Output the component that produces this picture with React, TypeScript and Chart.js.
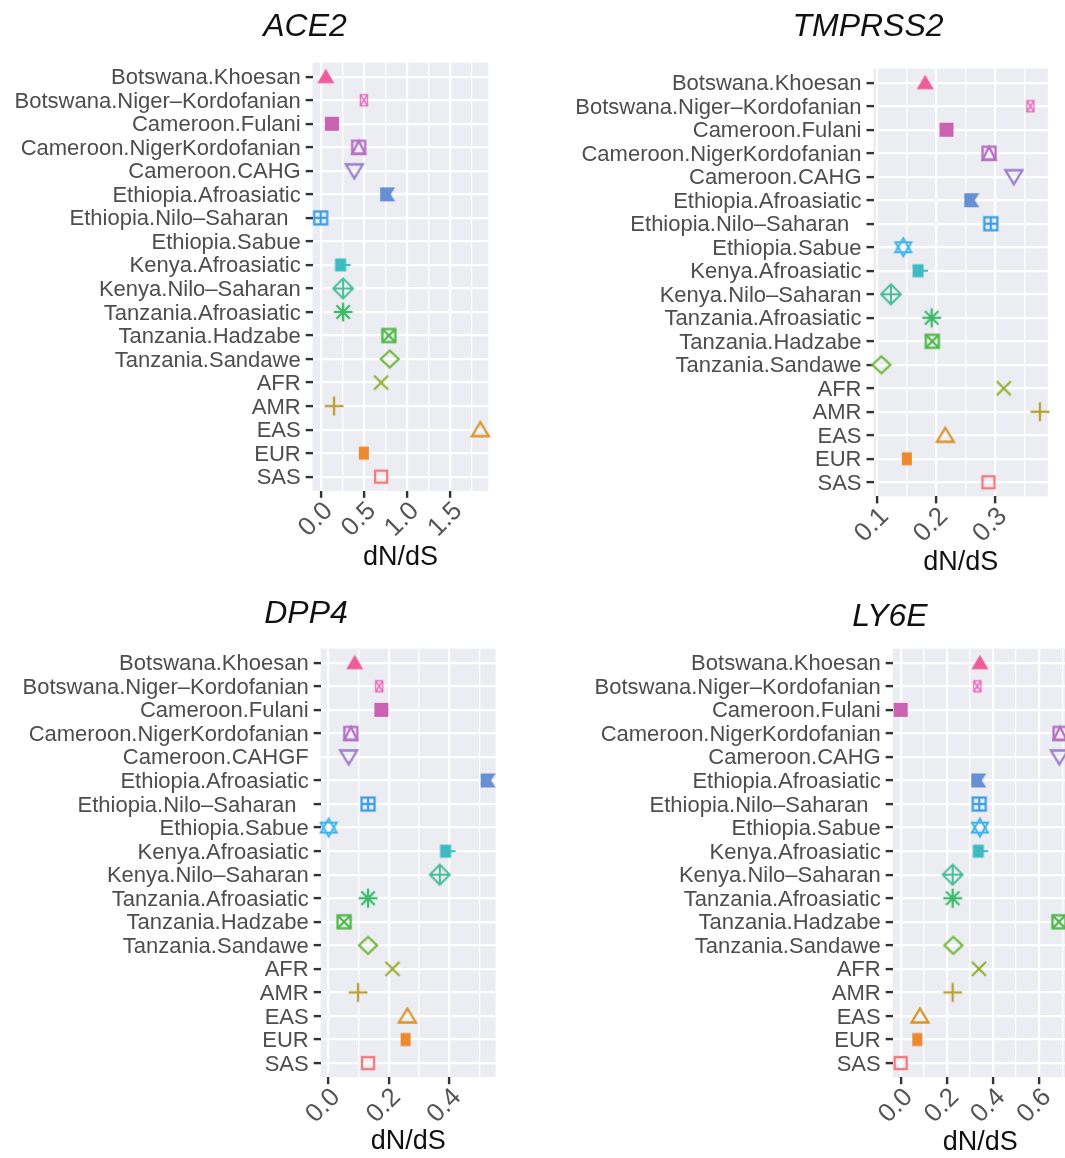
import React, { useEffect, useRef } from 'react';
import { Chart, registerables } from 'chart.js';

Chart.register(...registerables);

// ---------- data ----------
const POPULATIONS = [
  'Botswana.Khoesan',
  'Botswana.Niger–Kordofanian',
  'Cameroon.Fulani',
  'Cameroon.NigerKordofanian',
  'Cameroon.CAHG',
  'Ethiopia.Afroasiatic',
  'Ethiopia.Nilo–Saharan  ',
  'Ethiopia.Sabue',
  'Kenya.Afroasiatic',
  'Kenya.Nilo–Saharan',
  'Tanzania.Afroasiatic',
  'Tanzania.Hadzabe',
  'Tanzania.Sandawe',
  'AFR',
  'AMR',
  'EAS',
  'EUR',
  'SAS',
];

// DPP4 panel shows a glitched label
const POPULATIONS_DPP4 = POPULATIONS.map((p) => (p === 'Cameroon.CAHG' ? 'Cameroon.CAHGF' : p));

const ACE2 = [0.06, 0.5, 0.13, 0.44, 0.39, 0.77, 0.0, null, 0.23, 0.26, 0.26, 0.79, 0.8, 0.7, 0.155, 1.85, 0.5, 0.7];
const TMPRSS2 = [0.182, 0.36, 0.218, 0.29, 0.332, 0.26, 0.293, 0.145, 0.17, 0.124, 0.193, 0.194, 0.108, 0.315, 0.376, 0.216, 0.151, 0.289];
const DPP4 = [0.088, 0.169, 0.176, 0.075, 0.068, 0.527, 0.132, 0.002, 0.388, 0.369, 0.132, 0.053, 0.132, 0.213, 0.099, 0.262, 0.256, 0.132];
const LY6E = [0.343, 0.332, 0.0, 0.69, 0.687, 0.336, 0.34, 0.343, 0.336, 0.225, 0.225, 0.685, 0.228, 0.339, 0.225, 0.0835, 0.072, 0.0];

const ACE2_TICKS = [0, 0.5, 1.0, 1.5];
const ACE2_MINOR = [0.25, 0.75, 1.25, 1.75];
const TMPRSS2_TICKS = [0.1, 0.2, 0.3];
const TMPRSS2_MINOR = [0.15, 0.25, 0.35];
const DPP4_TICKS = [0, 0.2, 0.4];
const DPP4_MINOR = [0.1, 0.3, 0.5];
const LY6E_TICKS = [0, 0.2, 0.4, 0.6];
const LY6E_MINOR = [0.1, 0.3, 0.5, 0.7];

const COLORS = [
  '#EE5D9A', // Botswana.Khoesan
  '#E46BB8', // Botswana.Niger–Kordofanian
  '#C962B0', // Cameroon.Fulani
  '#B46EC2', // Cameroon.NigerKordofanian
  '#9A7FCC', // Cameroon.CAHG
  '#6690D3', // Ethiopia.Afroasiatic
  '#3C9FE4', // Ethiopia.Nilo–Saharan
  '#3CB6EA', // Ethiopia.Sabue
  '#3DBBC0', // Kenya.Afroasiatic
  '#48BF96', // Kenya.Nilo–Saharan
  '#3DBB6A', // Tanzania.Afroasiatic
  '#4DB848', // Tanzania.Hadzabe
  '#72BA3E', // Tanzania.Sandawe
  '#9AAE35', // AFR
  '#B9A233', // AMR
  '#D8962A', // EAS
  '#EC8A30', // EUR
  '#F2787A', // SAS
];

const FONT = '"Liberation Sans", Arial, Helvetica, sans-serif';

// ---------- marker glyphs ----------
type Draw = (c: CanvasRenderingContext2D) => void;

const poly = (c: CanvasRenderingContext2D, pts: number[][], fill: boolean) => {
  c.beginPath();
  pts.forEach(([x, y], i) => (i ? c.lineTo(x, y) : c.moveTo(x, y)));
  c.closePath();
  fill ? c.fill() : c.stroke();
};
const line = (c: CanvasRenderingContext2D, x1: number, y1: number, x2: number, y2: number) => {
  c.beginPath();
  c.moveTo(x1, y1);
  c.lineTo(x2, y2);
  c.stroke();
};

const SHAPES: Draw[] = [
  // filled triangle
  (c) => poly(c, [[0, -8], [8.5, 6.5], [-8.5, 6.5]], true),
  // small rect with hourglass
  (c) => {
    c.lineWidth = 1.4;
    c.strokeRect(-3.5, -5.5, 7, 11);
    line(c, -3.5, -5.5, 3.5, 5.5);
    line(c, 3.5, -5.5, -3.5, 5.5);
  },
  // filled square
  (c) => c.fillRect(-7, -7, 14, 14),
  // square with triangle
  (c) => {
    c.strokeRect(-6.5, -6.5, 13, 13);
    poly(c, [[0, -6.5], [6.5, 6.5], [-6.5, 6.5]], false);
  },
  // open triangle down
  (c) => poly(c, [[-8.5, -6.5], [8.5, -6.5], [0, 7.5]], false),
  // notched filled square
  (c) => poly(c, [[-7, -7], [8, -7], [3.5, 0], [8, 7], [-7, 7]], true),
  // square plus
  (c) => {
    c.strokeRect(-6.5, -6.5, 13, 13);
    line(c, 0, -6.5, 0, 6.5);
    line(c, -6.5, 0, 6.5, 0);
  },
  // star of David
  (c) => {
    c.lineWidth = 2;
    poly(c, [[0, -9], [8, 5], [-8, 5]], false);
    poly(c, [[0, 9], [8, -5], [-8, -5]], false);
  },
  // filled square with tick
  (c) => {
    c.fillRect(-5.5, -6.5, 11, 13);
    c.lineWidth = 2;
    line(c, 5, 0, 10, 0);
  },
  // diamond plus
  (c) => {
    c.lineWidth = 2;
    poly(c, [[0, -10], [10, 0], [0, 10], [-10, 0]], false);
    line(c, 0, -10, 0, 10);
    line(c, -10, 0, 10, 0);
  },
  // asterisk
  (c) => {
    line(c, 0, -9.5, 0, 9.5);
    line(c, -9.5, 0, 9.5, 0);
    line(c, -6.7, -6.7, 6.7, 6.7);
    line(c, 6.7, -6.7, -6.7, 6.7);
  },
  // square cross
  (c) => {
    c.strokeRect(-6.5, -6.5, 13, 13);
    line(c, -6.5, -6.5, 6.5, 6.5);
    line(c, 6.5, -6.5, -6.5, 6.5);
  },
  // open diamond
  (c) => poly(c, [[0, -8.5], [9, 0], [0, 8.5], [-9, 0]], false),
  // x
  (c) => {
    line(c, -7, -7, 7, 7);
    line(c, 7, -7, -7, 7);
  },
  // plus
  (c) => {
    line(c, -9.5, 0, 9.5, 0);
    line(c, 0, -9.5, 0, 9.5);
  },
  // open triangle
  (c) => poly(c, [[0, -7.5], [8.5, 6.5], [-8.5, 6.5]], false),
  // small filled rect
  (c) => c.fillRect(-5, -6.5, 10, 13),
  // open square
  (c) => c.strokeRect(-6, -6, 12, 12),
];

function makeMarker(draw: Draw, color: string): HTMLCanvasElement {
  const size = 30;
  const cv = document.createElement('canvas');
  cv.width = size;
  cv.height = size;
  const c = cv.getContext('2d')!;
  c.translate(size / 2, size / 2);
  c.strokeStyle = color;
  c.fillStyle = color;
  c.lineWidth = 2.3;
  c.lineJoin = 'miter';
  draw(c);
  return cv;
}

// ---------- panels ----------
type Box = { left: number; top: number; width: number; height: number };
type Area = { left: number; top: number; right: number; bottom: number };
type PanelCfg = {
  title: string;
  labels: string[];
  values: (number | null)[];
  major: number[];
  minor: number[];
  box: Box;
  area: Area;
  xTitleY: number;
  titlePos: [number, number];
  hideTick?: number[];
};

const PANELS: PanelCfg[] = [
  {
    title: 'ACE2', labels: POPULATIONS, values: ACE2, major: ACE2_TICKS, minor: ACE2_MINOR,
    box: { left: 0, top: 0, width: 510, height: 585 },
    area: { left: 312.7, top: 62.6, right: 488.3, bottom: 490.8 },
    xTitleY: 558, titlePos: [305, 24.3],
  },
  {
    title: 'TMPRSS2', labels: POPULATIONS, values: TMPRSS2, major: TMPRSS2_TICKS, minor: TMPRSS2_MINOR,
    box: { left: 520, top: 0, width: 545, height: 585 },
    area: { left: 873.5, top: 68.6, right: 1047.8, bottom: 496.4 },
    xTitleY: 563, titlePos: [868, 25],
  },
  {
    title: 'DPP4', labels: POPULATIONS_DPP4, values: DPP4, major: DPP4_TICKS, minor: DPP4_MINOR,
    box: { left: 0, top: 585, width: 510, height: 573 },
    area: { left: 320.7, top: 648.6, right: 495.6, bottom: 1077.2 },
    xTitleY: 1142, titlePos: [306, 612], hideTick: [4],
  },
  {
    title: 'LY6E', labels: POPULATIONS, values: LY6E, major: LY6E_TICKS, minor: LY6E_MINOR,
    box: { left: 520, top: 585, width: 566, height: 573 },
    area: { left: 892.7, top: 648.6, right: 1068, bottom: 1077.2 },
    xTitleY: 1143, titlePos: [890, 615],
  },
];

const panelBg = {
  id: 'panelBg',
  beforeDraw(chart: any) {
    const { ctx, chartArea: a } = chart;
    ctx.save();
    ctx.fillStyle = '#ECECF3';
    ctx.fillRect(a.left, a.top, a.right - a.left, a.bottom - a.top);
    ctx.restore();
  },
};

const X_TITLE_SIZE = 27;

function Panel({ cfg }: { cfg: PanelCfg }) {
  const ref = useRef<HTMLCanvasElement>(null);
  const { box, area } = cfg;

  useEffect(() => {
    const markers = COLORS.map((col, i) => makeMarker(SHAPES[i], col));
    const pts: { x: number; y: number }[] = [];
    const styles: HTMLCanvasElement[] = [];
    cfg.values.forEach((v, i) => {
      if (v != null) {
        pts.push({ x: v, y: i });
        styles.push(markers[i]);
      }
    });
    const vals = cfg.values.filter((v): v is number => v != null);
    const lo = Math.min(...vals);
    const hi = Math.max(...vals);
    const pad = (hi - lo) * 0.05;
    const titleHalf = (X_TITLE_SIZE * 1.2) / 2;
    const xAxisH = cfg.xTitleY + titleHalf - area.bottom;
    const isMajor = (v: number) => cfg.major.some((m) => Math.abs(m - v) < 1e-9);

    const chart = new Chart(ref.current!, {
      type: 'scatter',
      data: {
        datasets: [
          {
            data: pts,
            pointStyle: styles as any,
            pointRadius: 10,
            clip: false as any,
          },
        ],
      },
      options: {
        responsive: false,
        animation: false,
        events: [],
        layout: {
          padding: {
            top: area.top - box.top,
            right: box.left + box.width - area.right,
            bottom: box.height - (area.bottom - box.top) - xAxisH,
            left: 0,
          },
        },
        plugins: {
          legend: { display: false },
          tooltip: { enabled: false },
        },
        scales: {
          x: {
            type: 'linear',
            bounds: 'data',
            min: lo - pad,
            max: hi + pad,
            afterBuildTicks: (s: any) => {
              s.ticks = [...cfg.major, ...cfg.minor].sort((a, b) => a - b).map((v) => ({ value: v }));
            },
            afterFit: (s: any) => {
              s.height = xAxisH;
            },
            ticks: {
              autoSkip: false,
              minRotation: 45,
              maxRotation: 45,
              padding: -2,
              labelOffset: 8,
              color: '#555555',
              font: { family: FONT, size: 26 },
              callback: (v: any) => (isMajor(Number(v)) ? Number(v).toFixed(1) : ''),
            },
            grid: {
              color: '#FFFFFF',
              lineWidth: (c: any) => (c.tick && isMajor(c.tick.value) ? 2.2 : 1.3),
              tickColor: (c: any) => (c.tick && isMajor(c.tick.value) ? '#333333' : 'rgba(0,0,0,0)'),
              tickLength: 7,
              tickWidth: 2.4,
            },
            border: { display: false },
            title: {
              display: true,
              text: 'dN/dS',
              color: '#111111',
              font: { family: FONT, size: X_TITLE_SIZE },
              padding: 0,
            },
          },
          y: {
            type: 'linear',
            bounds: 'data',
            reverse: true,
            min: -0.6,
            max: cfg.labels.length - 0.4,
            afterBuildTicks: (s: any) => {
              s.ticks = cfg.labels.map((_, i) => ({ value: i }));
            },
            afterFit: (s: any) => {
              s.width = area.left - box.left;
            },
            ticks: {
              autoSkip: false,
              padding: 5,
              labelOffset: 1.5,
              color: '#4D4D4D',
              font: { family: FONT, size: 22, lineHeight: 1 },
              callback: (v: any) => cfg.labels[Number(v)],
            },
            grid: {
              color: '#FFFFFF',
              lineWidth: 2.2,
              tickColor: (c: any) =>
                c.tick && cfg.hideTick && cfg.hideTick.includes(c.tick.value) ? 'rgba(0,0,0,0)' : '#333333',
              tickLength: 7,
              tickWidth: 2.4,
            },
            border: { display: false },
          },
        },
      } as any,
      plugins: [panelBg],
    });
    return () => chart.destroy();
  }, []);

  return (
    <>
      <canvas
        ref={ref}
        width={box.width}
        height={box.height}
        style={{ position: 'absolute', left: box.left, top: box.top, width: box.width, height: box.height }}
      />
      <div
        style={{
          position: 'absolute',
          left: cfg.titlePos[0] - 150,
          top: cfg.titlePos[1] - 15.6,
          width: 300,
          textAlign: 'center',
          font: `italic 32px ${FONT}`,
          lineHeight: '32px',
          color: '#111111',
          whiteSpace: 'nowrap',
        }}
      >
        {cfg.title}
      </div>
    </>
  );
}

export default function App() {
  return (
    <div
      style={{
        position: 'absolute',
        left: 0,
        top: 0,
        width: 1065,
        height: 1158,
        overflow: 'hidden',
        background: '#FFFFFF',
      }}
    >
      {PANELS.map((p) => (
        <Panel key={p.title} cfg={p} />
      ))}
    </div>
  );
}
